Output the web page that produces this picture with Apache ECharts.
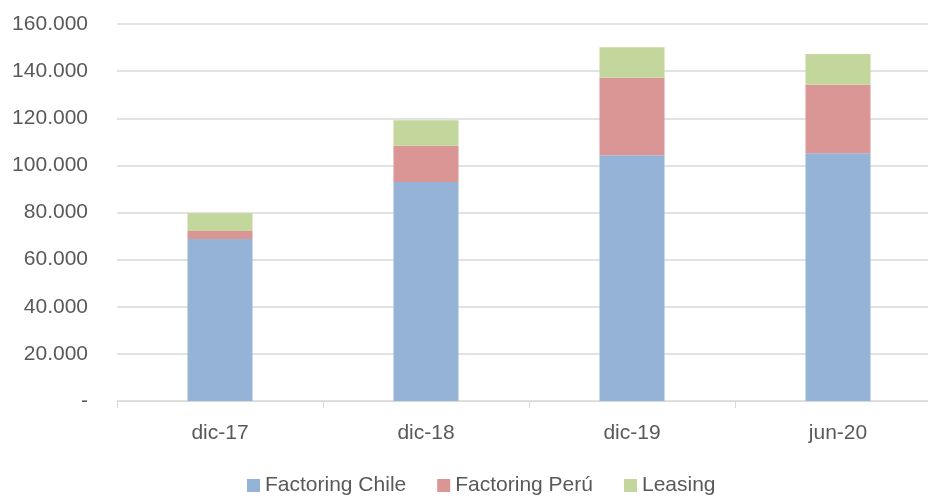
<!DOCTYPE html>
<html>
<head>
<meta charset="utf-8">
<script src="https://cdn.jsdelivr.net/npm/echarts@6/dist/echarts.min.js"></script>
<style>
  html, body { margin: 0; padding: 0; background: #fff; overflow: hidden; }
  /* el eje x continua fuera del recorte, como en la imagen original */
  #chart { width: 941px; height: 498px; }
</style>
</head>
<body>
<div id="chart"></div>
<script>
// periodos
var categories = ['dic-17', 'dic-18', 'dic-19', 'jun-20']
// valores
var factoringChile = [68750, 92900, 104300, 105100]
var factoringPeru = [3400, 15400, 32900, 29100]
var leasing = [7500, 10900, 12900, 13100]

var textColor = '#595959'
var font = 'Liberation Sans'

function fmt(v) {
  if (v === 0) return '-'
  return String(v).replace(/\B(?=(\d{3})+(?!\d))/g, '.')
}

var chart = echarts.init(document.getElementById('chart'))
chart.setOption({
  animation: false,
  textStyle: { fontFamily: font },
  grid: {
    left: 117,
    top: 24,
    right: 0,
    height: 377
  },
  legend: {
    bottom: -3,
    left: 242,
    itemWidth: 13,
    itemHeight: 13,
    itemGap: 31,
    icon: 'rect',
    textStyle: { color: textColor, fontSize: 21, fontFamily: font },
    data: ['Factoring Chile', 'Factoring Perú', 'Leasing']
  },
  xAxis: {
    type: 'category',
    data: categories,
    axisLine: { lineStyle: { color: '#d9d9d9', width: 1 } },
    axisTick: { show: true, length: 7, lineStyle: { color: '#d9d9d9' } },
    axisLabel: { color: textColor, fontSize: 21, margin: 22 }
  },
  yAxis: {
    type: 'value',
    min: 0,
    max: 160000,
    interval: 20000,
    axisLine: { show: false },
    axisTick: { show: false },
    splitLine: { lineStyle: { color: '#d9d9d9', width: 1.5 } },
    axisLabel: {
      color: textColor,
      fontSize: 21,
      margin: 29,
      formatter: fmt
    }
  },
  series: [
    {
      name: 'Factoring Chile',
      type: 'bar',
      stack: 'total',
      barWidth: 65,
      itemStyle: { color: '#95b3d7' },
      data: factoringChile
    },
    {
      name: 'Factoring Perú',
      type: 'bar',
      stack: 'total',
      barWidth: 65,
      itemStyle: { color: '#d99694' },
      data: factoringPeru
    },
    {
      name: 'Leasing',
      type: 'bar',
      stack: 'total',
      barWidth: 65,
      itemStyle: { color: '#c3d69b' },
      data: leasing
    }
  ]
})
</script>
</body>
</html>
